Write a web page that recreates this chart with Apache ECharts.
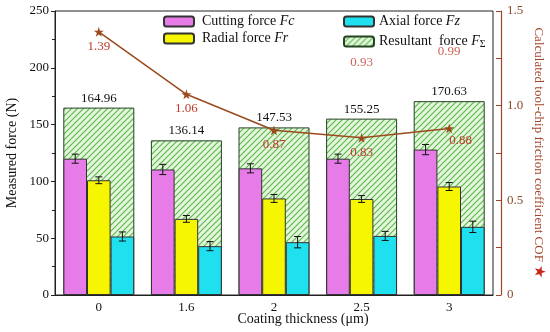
<!DOCTYPE html>
<html><head><meta charset="utf-8">
<script src="https://cdn.jsdelivr.net/npm/echarts@6/dist/echarts.min.js"></script>
<style>html,body{margin:0;padding:0;background:#fff}#c{width:550px;height:332px}</style>
</head><body><div id="c"></div>
<script>
var categories = ['0', '1.6', '2', '2.5', '3'];
var cuttingForce = [120, 110.5, 111.5, 120, 128];
var cuttingErr = [4, 4.5, 4, 4, 4.5];
var radialForce = [101, 67, 85, 84.5, 95.5];
var radialErr = [3, 3, 3.5, 3, 3.5];
var axialForce = [51.5, 43, 46.5, 52, 60];
var axialErr = [4, 4, 5, 4, 5];
var resultantForce = [164.96, 136.14, 147.53, 155.25, 170.63];
var cof = [1.39, 1.06, 0.87, 0.83, 0.88];
var strayLabelValues = [null, null, null, 1.23, 1.285];
var strayLabelTexts = ['', '', '', '0.93', '0.99'];
var leftTicks = {min: 0, max: 250, interval: 50};
var rightTicks = {min: 0, max: 1.5, interval: 0.5};

var FONT = '"Liberation Serif", "Times New Roman", serif';
var BAR_W = 23.6;

// hatch pattern
var pc = document.createElement('canvas');
pc.width = 6; pc.height = 6;
var g = pc.getContext('2d');
g.fillStyle = '#e4f6dc'; g.fillRect(0, 0, 6, 6);
g.strokeStyle = '#5fba4e'; g.lineWidth = 1.2;
g.beginPath();
g.moveTo(0, 6); g.lineTo(6, 0);
g.moveTo(-3, 3); g.lineTo(3, -3);
g.moveTo(3, 9); g.lineTo(9, 3);
g.stroke();
var hatch = {image: pc, repeat: 'repeat'};

function errSeries(vals, errs, idx) {
  return {
    type: 'custom', xAxisIndex: 0, yAxisIndex: 0, z: 5, silent: true,
    data: vals.map(function (v, i) { return [i, v, errs[i]]; }),
    renderItem: function (params, api) {
      var x = api.value(0), v = api.value(1), e = api.value(2);
      var hi = api.coord([x, v + e]);
      var lo = api.coord([x, v - e]);
      var cx = hi[0] + (idx - 1) * BAR_W;
      var cap = 3.5;
      var st = {stroke: '#111', lineWidth: 1};
      return {type: 'group', children: [
        {type: 'line', shape: {x1: cx, y1: hi[1], x2: cx, y2: lo[1]}, style: st},
        {type: 'line', shape: {x1: cx - cap, y1: hi[1], x2: cx + cap, y2: hi[1]}, style: st},
        {type: 'line', shape: {x1: cx - cap, y1: lo[1], x2: cx + cap, y2: lo[1]}, style: st}
      ]};
    }
  };
}

var STAR = 'path://M50,0 L61,35 L98,35 L68,57 L79,91 L50,70 L21,91 L32,57 L2,35 L39,35 Z';
var legendRich = {
  i: {fontFamily: FONT, fontSize: 14, fontStyle: 'italic', color: '#111', lineHeight: 15},
  s: {fontFamily: FONT, fontSize: 10, color: '#111', lineHeight: 15, verticalAlign: 'bottom', padding: [8, 0, 0, 0]}
};
var chart = echarts.init(document.getElementById('c'), null, {renderer: 'canvas'});
chart.setOption({
  animation: false,
  textStyle: {fontFamily: FONT},
  grid: {left: 55, right: 57, top: 11, bottom: 37, show: true, borderColor: '#222', borderWidth: 1,
         backgroundColor: 'transparent', containLabel: false, outerBoundsMode: 'none'},
  legend: [
    {orient: 'vertical', left: 163, top: 14, padding: 0, itemWidth: 30, itemHeight: 10, itemGap: 2,
     data: ['Cutting force Fc', 'Radial force Fr'],
     textStyle: {fontFamily: FONT, fontSize: 14, lineHeight: 15, color: '#111', padding: [0, 0, 0, 3], rich: legendRich},
     formatter: function (n) { return n === 'Cutting force Fc' ? 'Cutting force {i|Fc}' : 'Radial force {i|Fr}'; }},
    {orient: 'vertical', left: 343, top: 14, padding: 0, itemWidth: 30, itemHeight: 10, itemGap: 2,
     data: ['Axial force Fz', 'Resultant force'],
     textStyle: {fontFamily: FONT, fontSize: 14, lineHeight: 15, color: '#111', padding: [0, 0, 0, 0], rich: legendRich},
     formatter: function (n) { return n === 'Axial force Fz' ? 'Axial force {i|Fz}' : 'Resultant  force {i|F}{s|Σ}'; }}
  ],
  xAxis: [
    {type: 'category', data: categories, gridIndex: 0,
     axisLine: {lineStyle: {color: '#222'}},
     axisTick: {inside: true, alignWithLabel: true, length: 5, lineStyle: {color: '#222'}},
     axisLabel: {fontFamily: FONT, fontSize: 13, color: '#111', margin: 6},
     name: 'Coating thickness (μm)', nameLocation: 'middle', nameGap: 17, nameMoveOverlap: false,
     nameTextStyle: {fontFamily: FONT, fontSize: 14, color: '#111', padding: [0, 0, 0, 58]}},
    {type: 'category', data: categories, show: false}
  ],
  yAxis: [
    {type: 'value', min: leftTicks.min, max: leftTicks.max, interval: leftTicks.interval,
     splitLine: {show: false},
     axisLine: {show: true, lineStyle: {color: '#222'}},
     axisTick: {show: true, length: 4, lineStyle: {color: '#222'}},
     minorTick: {show: true, splitNumber: 2, length: 3, lineStyle: {color: '#222'}},
     axisLabel: {fontFamily: FONT, fontSize: 13, color: '#111', margin: 6},
     name: 'Measured force (N)', nameLocation: 'middle', nameGap: 36, nameMoveOverlap: false,
     nameTextStyle: {fontFamily: FONT, fontSize: 14, color: '#111'}},
    {type: 'value', position: 'right', offset: 8, min: rightTicks.min, max: rightTicks.max, interval: rightTicks.interval,
     splitLine: {show: false},
     axisLine: {show: true, lineStyle: {color: '#a2452a', width: 1.2}},
     axisTick: {show: true, inside: true, length: 5, lineStyle: {color: '#a2452a'}},
     minorTick: {show: true, splitNumber: 2, length: 5, lineStyle: {color: '#a2452a'}},
     axisLabel: {fontFamily: FONT, fontSize: 13, color: '#8a4a30', margin: 6,
       formatter: function (v) { return v === 0 ? '0' : v.toFixed(1); }},
     name: 'Calculated tool-chip friction coefficient COF {st|★}', nameLocation: 'middle', nameGap: 30, nameRotate: -90,
     nameMoveOverlap: false,
     nameTextStyle: {fontFamily: FONT, fontSize: 13, color: '#a2452a',
       rich: {st: {fontFamily: 'DejaVu Sans', fontSize: 15, color: '#c8261c'}}}}
  ],
  series: [
    {name: 'Resultant force', type: 'bar', xAxisIndex: 1, yAxisIndex: 0, barWidth: 71, z: 1,
     data: resultantForce,
     itemStyle: {color: hatch, borderColor: '#224422', borderWidth: 1},
     label: {show: true, position: 'top', distance: 3, fontFamily: FONT, fontSize: 13, color: '#111',
       formatter: function (p) { return p.value.toFixed(2); }}},
    {name: 'Cutting force Fc', type: 'bar', xAxisIndex: 0, yAxisIndex: 0, barWidth: BAR_W, barGap: '0%', z: 2,
     data: cuttingForce, itemStyle: {color: '#e77ce9', borderColor: '#333', borderWidth: 1}},
    {name: 'Radial force Fr', type: 'bar', xAxisIndex: 0, yAxisIndex: 0, barWidth: BAR_W, barGap: '0%', z: 2,
     data: radialForce, itemStyle: {color: '#f6f600', borderColor: '#333', borderWidth: 1}},
    {name: 'Axial force Fz', type: 'bar', xAxisIndex: 0, yAxisIndex: 0, barWidth: BAR_W, barGap: '0%', z: 2,
     data: axialForce, itemStyle: {color: '#1fe0ee', borderColor: '#333', borderWidth: 1}},
    errSeries(cuttingForce, cuttingErr, 0),
    errSeries(radialForce, radialErr, 1),
    errSeries(axialForce, axialErr, 2),
    {name: 'COF', type: 'line', xAxisIndex: 0, yAxisIndex: 1, z: 6,
     data: cof.map(function (v, i) {
       return {value: v, label: i === 4 ? {position: 'right', offset: [-8, 12]} : {}};
     }),
     symbol: STAR, symbolSize: 10,
     lineStyle: {color: '#9a4a1c', width: 1.5},
     itemStyle: {color: '#9a4a1c'},
     label: {show: true, position: 'bottom', distance: 3, fontFamily: FONT, fontSize: 13, color: '#c0392b',
       formatter: function (p) { return p.value.toFixed(2); }}},
    {name: 'stray', type: 'scatter', xAxisIndex: 0, yAxisIndex: 1, symbolSize: 0, z: 6, silent: true,
     data: strayLabelValues.map(function (v, i) { return v === null ? null : [i, v]; }),
     label: {show: true, position: 'inside', fontFamily: FONT, fontSize: 13, color: '#c0392b',
       formatter: function (p) { return strayLabelTexts[p.dataIndex]; }}}
  ]
});
</script></body></html>
